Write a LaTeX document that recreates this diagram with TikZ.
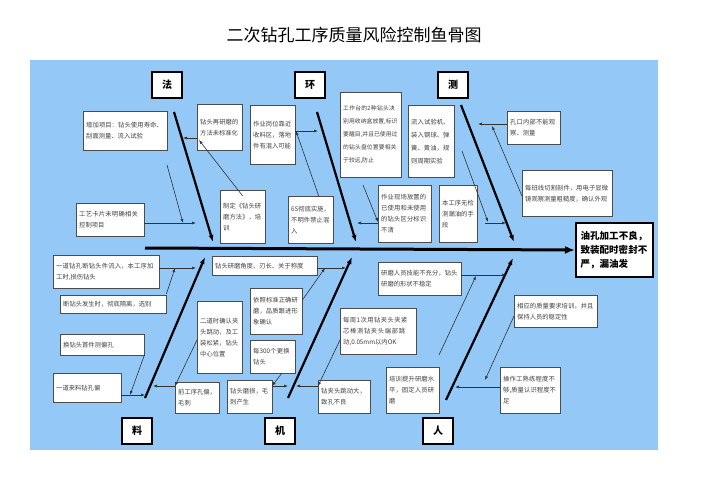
\documentclass[tikz,border=0pt]{standalone}
\usepackage{fontspec}
\setmainfont{Noto Sans CJK SC}
\XeTeXlinebreaklocale "zh"
\XeTeXlinebreakskip=0pt plus 1pt
\usetikzlibrary{arrows.meta}
\definecolor{bg}{HTML}{93C8F7}
\tikzset{
  bx/.style={draw=black!70,fill=white,anchor=north west,inner sep=3pt,font=\fontsize{6.3}{11}\selectfont,text=black!75,align=left},
  cat/.style={draw,line width=1.3pt,fill=white,minimum width=30pt,minimum height=26pt,font=\bfseries\fontsize{10}{12}\selectfont},
  bone/.style={line width=2.2pt,-{Latex[length=7pt,width=5pt]}},
  thin/.style={line width=0.6pt,draw=black!80,-{Latex[length=4pt,width=3pt]}}
}
\begin{document}
\begin{tikzpicture}[x=1pt,y=-1pt]
\useasboundingbox (0,0) rectangle (707,500);
\fill[white] (0,0) rectangle (707,500);
\fill[bg] (30,60) rectangle (658,450);
\node (title) at (354,35) {\fontsize{17}{20}\selectfont 二次钻孔工序质量风险控制鱼骨图};
\node[draw,line width=2pt,fill=white,anchor=north west,minimum width=77pt,minimum height=54pt,text width=68pt,align=left,font=\bfseries\fontsize{9.5}{14}\selectfont,inner sep=3pt] (head) at (575,222) {油孔加工不良，致装配时密封不严，漏油发};
\coordinate (s0) at (145,248);
\draw[line width=3pt,-{Latex[length=10pt,width=8pt]}] (s0) -- (head.west);
\node[cat] (fa) at (167,85) {法};
\node[cat] (huan) at (310,85) {环};
\node[cat] (ce) at (453,85) {测};
\node[cat] (liao) at (137,431) {料};
\node[cat] (ji) at (280,431) {机};
\node[cat] (ren) at (438,431) {人};
\coordinate (fa1) at (174,112); \coordinate (fa2) at (213,242);
\coordinate (hu1) at (317,112); \coordinate (hu2) at (356,242);
\coordinate (ce1) at (461,105); \coordinate (ce2) at (514,242);
\coordinate (li1) at (145,398); \coordinate (li2) at (205,257);
\coordinate (ji1) at (288,398); \coordinate (ji2) at (352,257);
\coordinate (re1) at (446,400); \coordinate (re2) at (513,258);
\foreach \a/\b in {fa1/fa2,hu1/hu2,ce1/ce2,li1/li2,ji1/ji2,re1/re2} \draw[bone] (\a) -- (\b);
\node[bx,text width=78pt,minimum height=39pt] (b1) at (83,111) {增加项目：钻头使用寿命、刮面测量、流入试验};
\node[bx,text width=39pt,minimum height=46pt] (b2) at (197,104) {钻头再研磨的方法未标准化};
\node[bx,text width=62pt,minimum height=33pt] (b3) at (76,203) {工艺卡片未明确相关控制项目};
\node[bx,text width=39pt,minimum height=53pt] (b4) at (220,190) {制定《钻头研磨方法》，培训};
\node[bx,text width=39pt,minimum height=59pt] (b5) at (250,105) {作业岗位靠近收料区，落地件有混入可能};
\node[bx,text width=39pt,minimum height=47pt] (b6) at (288,196) {6S彻底实施，不明件禁止混入};
\node[bx,text width=55pt,minimum height=85pt,font=\fontsize{5.8}{13}\selectfont] (b7) at (340,92) {工作台的2种钻头决别用收纳盒放置,标识要醒目,并且已使用过的钻头盘位置要相关于较远,防止};
\node[bx,text width=47pt,minimum height=57pt] (b8) at (378,185) {作业现场放置的已使用和未使用的钻头区分标识不清};
\node[bx,text width=40pt,minimum height=72pt,font=\fontsize{6.3}{13}\selectfont] (b9) at (408,105) {流入试验机、装入钢球、弹簧、黄油，规则周期实验};
\node[bx,text width=47pt,minimum height=33pt] (b10) at (507,111) {孔口内部不能观察、测量};
\node[bx,text width=32pt,minimum height=57pt] (b11) at (439,185) {本工序无检测漏油的手段};
\node[bx,text width=84pt,minimum height=46pt] (b12) at (522,170) {每班线切割剖件，用电子显微镜观察测量粗糙度，确认外观};
\node[bx,text width=100pt,minimum height=33pt] (c1) at (53,255) {一道钻孔断钻头件流入，本工序加工时,损伤钻头};
\node[bx,text width=100pt,minimum height=18pt] (c2) at (60,295) {断钻头发生时，彻底隔离，选别};
\node[bx,text width=78pt,minimum height=21pt] (c3) at (60,334) {换钻头首件测偏孔};
\node[bx,text width=62pt,minimum height=29pt] (c4) at (53,373) {一道来料钻孔偏};
\node[bx,text width=39pt,minimum height=72pt] (c5) at (197,301) {二道时确认夹头跳动，及工装松紧，钻头中心位置};
\node[bx,text width=38pt,minimum height=31pt] (c6) at (175,382) {前工序孔偏，毛刺};
\node[bx,text width=99pt,minimum height=19pt] (c7) at (212,256) {钻头研磨角度、刃长、关于称度};
\node[bx,text width=46pt,minimum height=46pt] (c8) at (250,288) {依照标准正确研磨，品质跟进形象确认};
\node[bx,text width=39pt,minimum height=33pt] (c9) at (250,340) {每300个更换钻头};
\node[bx,text width=39pt,minimum height=33pt] (c10) at (227,380) {钻头磨损，毛刺产生};
\node[bx,text width=70pt,minimum height=46pt] (c11) at (340,308) {每周1次用钻夹头夹紧芯棒测钻夹头端部跳动,0.05mm以内OK};
\node[bx,text width=46pt,minimum height=33pt] (c12) at (318,380) {钻夹头跳动大，致孔不良};
\node[bx,text width=77pt,minimum height=33pt] (c13) at (378,262) {研磨人员技能不充分，钻头研磨的形状不稳定};
\node[bx,text width=47pt,minimum height=46pt] (c14) at (386,367) {培训提升研磨水平，固定人员研磨};
\node[bx,text width=77pt,minimum height=32pt] (c15) at (514,295) {相应的质量要求培训，并且保持人员的稳定性};
\node[bx,text width=54pt,minimum height=46pt] (c16) at (500,367) {操作工熟练程度不够,质量认识程度不足};
\draw[thin] (b2.west |- 0,138) -- (183,138);
\draw[thin] (b4.north) ++(0,6) -- (199,140);
\draw[thin] (b3.east |- 0,223) -- (196,223);
\draw[thin] (167,165) -- (183,223);
\draw[thin] (b5.east |- 0,131) -- (318,131);
\draw[thin] (b6.north) ++(8,0) -- (296,131);
\draw[thin] (b8.west |- 0,223) -- (357,223);
\draw[thin] (363,185) -- (378,222);
\draw[thin] (b10.west |- 0,124) -- (478,124);
\draw[thin] (b12.west |- 0,196) -- (492,126);
\draw[thin] (485,223) -- (506,223);
\draw[thin] (462,151) -- (488,222);
\draw[thin] (c1.east |- 0,268) -- (196,268);
\draw[thin] (c2.east |- 0,294) -- (175,268);
\draw[thin] (c4.east |- 0,395) -- (145,395);
\draw[thin] (c3.east |- 0,355) -- (130,395);
\draw[thin] (c6.west |- 0,386) -- (153,386);
\draw[thin] (c5.west |- 0,340) -- (175,386);
\draw[thin] (c7.east |- 0,268) -- (346,268);
\draw[thin] (c8.east |- 0,300) -- (325,268);
\draw[thin] (c10.east |- 0,386) -- (288,386);
\draw[thin] (282,373) -- (272,386);
\draw[thin] (c12.west |- 0,386) -- (296,386);
\draw[thin] (c11.west |- 0,340) -- (318,386);
\draw[thin] (c13.east |- 0,275) -- (506,275);
\draw[thin] (439,355) -- (476,276);
\draw[thin] (c16.west |- 0,387) -- (455,387);
\draw[thin] (c15.west |- 0,316) -- (485,380);
\end{tikzpicture}
\end{document}
